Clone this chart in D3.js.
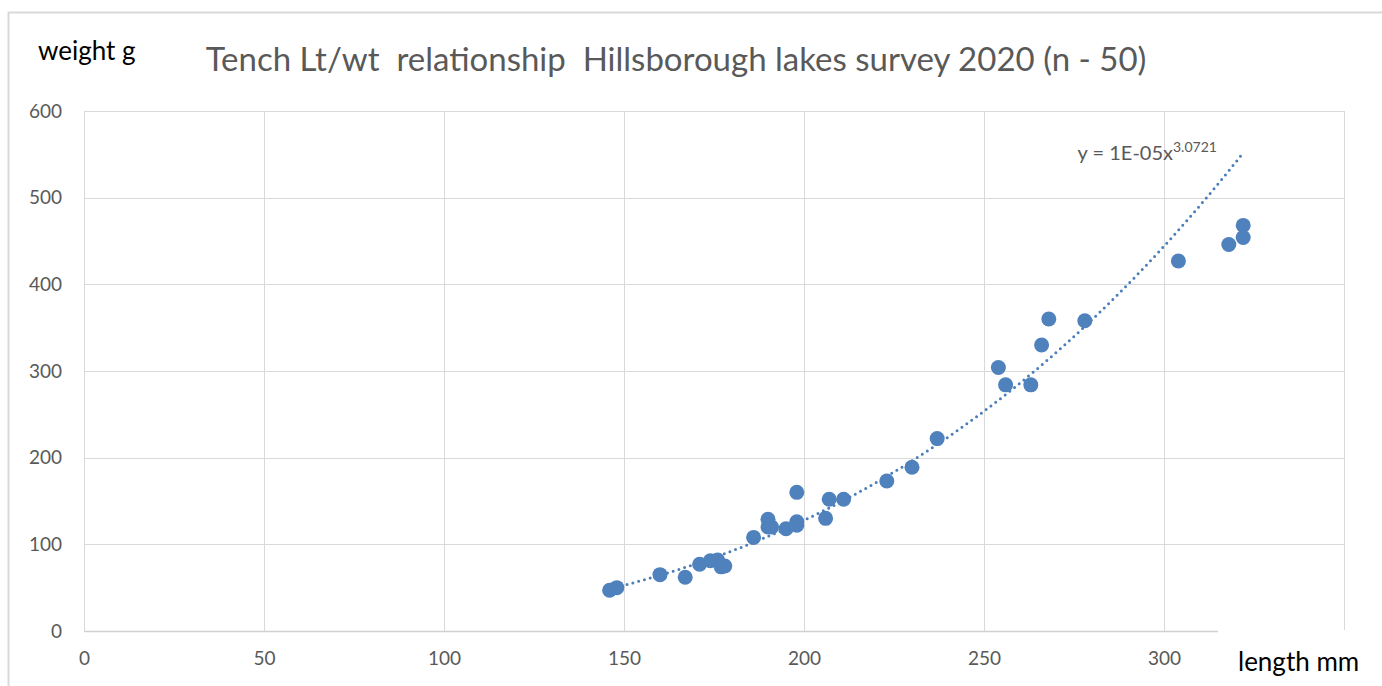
<!DOCTYPE html>
<html>
<head>
<meta charset="utf-8">
<script src="https://cdn.jsdelivr.net/npm/d3@7"></script>
<style>
  body { margin: 0; background: #fff; }
  svg text { font-family: Lato, "Open Sans", sans-serif; }
</style>
</head>
<body>
<div id="chart"></div>
<script>
// tench length (mm) and weight (g)
var lengths = [146, 148, 160, 167, 171, 174, 176, 177, 178, 186, 190, 190, 191, 195,
  198, 198, 198, 206, 207, 211, 223, 230, 237, 254, 256, 263, 266, 268, 278, 304, 318, 322, 322];
var weights = [47, 50, 65, 62, 77, 81, 82, 74, 75, 108, 129, 120, 120, 118,
  160, 126, 122, 130, 152, 152, 173, 189, 222, 304, 284, 284, 330, 360, 358, 427, 446, 454, 468];

var xGrid = [0, 50, 100, 150, 200, 250, 300, 350];
var xTickLabels = [0, 50, 100, 150, 200, 250, 300]; // 350 sits under the axis title
var yTicks = [0, 100, 200, 300, 400, 500, 600];

// power trendline y = a * x^b (label shows rounded a)
var trendA = 1.09e-5;
var trendB = 3.0721;

var svgWidth = 1382;
var svgHeight = 686;

var margin = { top: 111, right: 38, bottom: 55, left: 84 };
var width = svgWidth - margin.left - margin.right;
var height = svgHeight - margin.top - margin.bottom;

var svg = d3.select("#chart")
  .append("svg")
  .attr("width", svgWidth)
  .attr("height", svgHeight);

// chart area border
svg.append("rect")
  .attr("x", 8.5)
  .attr("y", 12.5)
  .attr("width", svgWidth)
  .attr("height", svgHeight)
  .attr("fill", "none")
  .attr("stroke", "#d9d9d9")
  .attr("stroke-width", 2);

var chartGroup = svg.append("g")
  .attr("transform", `translate(${margin.left}, ${margin.top})`);

var xScale = d3.scaleLinear().domain([0, 350]).range([0, width]);
var yScale = d3.scaleLinear().domain([0, 600]).range([height, 0]);

// gridlines
chartGroup.append("g")
  .selectAll("line")
  .data(yTicks)
  .enter()
  .append("line")
  .attr("x1", 0)
  .attr("x2", width)
  .attr("y1", d => Math.round(yScale(d)) + 0.5)
  .attr("y2", d => Math.round(yScale(d)) + 0.5)
  .attr("stroke", "#d9d9d9")
  .attr("stroke-width", 1);

chartGroup.append("g")
  .selectAll("line")
  .data(xGrid)
  .enter()
  .append("line")
  .attr("x1", d => Math.round(xScale(d)) + 0.5)
  .attr("x2", d => Math.round(xScale(d)) + 0.5)
  .attr("y1", 0)
  .attr("y2", height)
  .attr("stroke", "#d9d9d9")
  .attr("stroke-width", 1);

// axes (labels only, no tick marks)
var bottomAxis = d3.axisBottom(xScale).tickValues(xTickLabels).tickSize(0).tickPadding(21);
var leftAxis = d3.axisLeft(yScale).tickValues(yTicks).tickSize(0).tickPadding(22);

var xAxisG = chartGroup.append("g")
  .attr("transform", `translate(0, ${height})`)
  .call(bottomAxis);
xAxisG.select(".domain").attr("stroke", "#d0d0d0").attr("stroke-width", 1.5);

var yAxisG = chartGroup.append("g").call(leftAxis);
yAxisG.select(".domain").remove();

chartGroup.selectAll(".tick text")
  .attr("font-family", "Lato, sans-serif")
  .attr("font-size", "19px")
  .attr("fill", "#595959");

// trendline
var trendData = d3.range(d3.min(lengths), d3.max(lengths) + 0.5, 1);
var line = d3.line()
  .x(d => xScale(d))
  .y(d => yScale(trendA * Math.pow(d, trendB)));

chartGroup.append("path")
  .datum(trendData)
  .attr("d", line)
  .attr("fill", "none")
  .attr("stroke", "#4a7ebb")
  .attr("stroke-width", 3)
  .attr("stroke-linecap", "round")
  .attr("stroke-dasharray", "0 6");

// points
chartGroup.selectAll("circle")
  .data(lengths)
  .enter()
  .append("circle")
  .attr("cx", d => xScale(d))
  .attr("cy", (d, i) => yScale(weights[i]))
  .attr("r", 7.5)
  .attr("fill", "#4f81bd");

// equation label
var eq = chartGroup.append("text")
  .attr("x", xScale(276))
  .attr("y", yScale(544))
  .attr("font-size", "20px")
  .attr("fill", "#595959");
eq.append("tspan").text("y = 1E-05x");
eq.append("tspan").attr("dy", -8).attr("font-size", "14px").text("3.0721");

// white box behind x axis title (hides end of axis)
svg.append("rect")
  .attr("x", 1218)
  .attr("y", margin.top + height - 1)
  .attr("width", 164)
  .attr("height", 60)
  .attr("fill", "#fff");

// titles
svg.append("text")
  .attr("x", 676)
  .attr("y", 71)
  .attr("text-anchor", "middle")
  .attr("font-size", "33px")
  .attr("fill", "#595959")
  .attr("xml:space", "preserve")
  .text("Tench Lt/wt  relationship  Hillsborough lakes survey 2020 (n - 50)");

svg.append("text")
  .attr("x", 38)
  .attr("y", 60)
  .attr("font-size", "26px")
  .attr("fill", "#000")
  .text("weight g");

svg.append("text")
  .attr("x", 1238)
  .attr("y", 671)
  .attr("font-size", "26px")
  .attr("fill", "#000")
  .text("length mm");
</script>
</body>
</html>
